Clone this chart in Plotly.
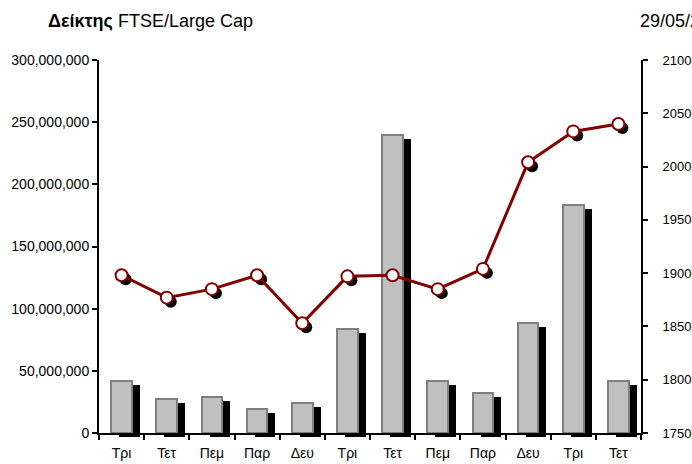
import plotly.graph_objects as go

# ---- data ----
dates = ["14/05", "15/05", "16/05", "17/05", "20/05", "21/05",
         "22/05", "23/05", "24/05", "27/05", "28/05", "29/05"]
days = ["Τρι", "Τετ", "Πεμ", "Παρ", "Δευ", "Τρι",
        "Τετ", "Πεμ", "Παρ", "Δευ", "Τρι", "Τετ"]
volume = [42e6, 27.6e6, 29.2e6, 19.5e6, 24.4e6, 83.6e6,
          239.4e6, 42e6, 32.4e6, 88.7e6, 183.1e6, 42e6]
index_close = [1898, 1877, 1885, 1898, 1853, 1897,
               1898, 1885, 1904, 2004, 2033, 2040]
title_bold = "Δείκτης"
title_rest = "FTSE/Large Cap"
date_text = "29/05/2002"

# ---- layout geometry (pixels) ----
W, H = 692, 464
ml, mr, mt, mb = 99, 47, 60, 27
pw = W - ml - mr
ph = H - mt - mb
sx, sy = 4, 4  # shadow offset in px
cat_px = (pw - sx) / len(dates)
bar_w = 0.46

FONT = "Liberation Sans, Arial, sans-serif"
TFONT = "Liberation Sans Narrow, Arial Narrow, Liberation Sans, sans-serif"

fig = go.Figure()
# shadow bars
fig.add_trace(go.Bar(x=dates, y=volume, xaxis="x", yaxis="y",
                     marker=dict(color="black", line=dict(width=0)),
                     width=bar_w, offset=-bar_w / 2 + sx / cat_px,
                     hoverinfo="skip", showlegend=False))
# shadow markers
fig.add_trace(go.Scatter(x=dates, y=index_close, xaxis="x", yaxis="y2",
                         mode="markers",
                         marker=dict(color="black", size=12, line=dict(width=0)),
                         hoverinfo="skip", showlegend=False))
# main bars
fig.add_trace(go.Bar(x=dates, y=volume, xaxis="x2", yaxis="y3",
                     marker=dict(color="#C0C0C0", line=dict(color="#808080", width=2)),
                     width=bar_w, showlegend=False))
# main line
fig.add_trace(go.Scatter(x=dates, y=index_close, xaxis="x2", yaxis="y4",
                         mode="lines+markers",
                         line=dict(color="#800000", width=3),
                         marker=dict(color="white", size=12,
                                     line=dict(color="#800000", width=2)),
                         showlegend=False))

common_line = dict(showline=True, linecolor="black", linewidth=2,
                   showgrid=False, zeroline=False, automargin=False,
                   tickfont=dict(family=FONT, size=14, color="black"),
                   tickcolor="black", tickwidth=1.5, ticklen=5)

fig.update_layout(
    width=W, height=H,
    margin=dict(l=ml, r=mr, t=mt, b=mb, pad=0, autoexpand=False),
    paper_bgcolor="white", plot_bgcolor="rgba(0,0,0,0)",
    bargap=0, showlegend=False, hovermode=False,
    xaxis=dict(domain=[sx / pw, 1], anchor="y", type="category",
               categoryorder="array", categoryarray=dates, automargin=False,
               range=[-0.5, len(dates) - 0.5], visible=False),
    yaxis=dict(domain=[0, 1 - sy / ph], anchor="x", range=[0, 300e6],
               visible=False, automargin=False),
    yaxis2=dict(overlaying="y", anchor="x", side="right", range=[1750, 2100],
                visible=False, automargin=False),
    xaxis2=dict(domain=[0, 1 - sx / pw], anchor="y3", type="category",
                categoryorder="array", categoryarray=dates,
                range=[-0.5, len(dates) - 0.5],
                tickmode="array", tickvals=dates, ticktext=days,
                ticks="outside", tickson="boundaries", ticklabelstandoff=6,
                **common_line),
    yaxis3=dict(domain=[sy / ph, 1], anchor="x2", range=[0, 300e6],
                dtick=50e6, tick0=0, tickformat=",", ticks="outside",
                ticklabelstandoff=0, **common_line),
    yaxis4=dict(overlaying="y3", anchor="x2", side="right", range=[1750, 2100],
                dtick=50, tick0=1750, ticks="outside", ticklabelstandoff=12,
                **{**common_line, "tickfont": dict(family=FONT, size=13, color="black")}),
    yaxis5=dict(overlaying="y3", anchor="x2", side="right", range=[1750, 2100],
                dtick=50, tick0=1750, ticks="inside", showticklabels=False,
                showline=False, showgrid=False, zeroline=False, automargin=False,
                tickcolor="black", tickwidth=1.5, ticklen=5),
    annotations=[
        dict(xref="paper", yref="paper",
             x=(46 - ml) / (pw - sx), y=(H - mb - 21) / ph,
             xanchor="left", yanchor="middle", showarrow=False,
             text=f"<b>{title_bold}</b> {title_rest}",
             font=dict(family=TFONT, size=18, color="black")),
        dict(xref="paper", yref="paper",
             x=(634 - ml) / (pw - sx), y=(H - mb - 21) / ph,
             xanchor="left", yanchor="middle", showarrow=False,
             text=date_text,
             font=dict(family=TFONT, size=18, color="black")),
    ],
)

fig.write_html("out.html", config={"displayModeBar": False},
               post_script="document.body.style.margin='0';")
